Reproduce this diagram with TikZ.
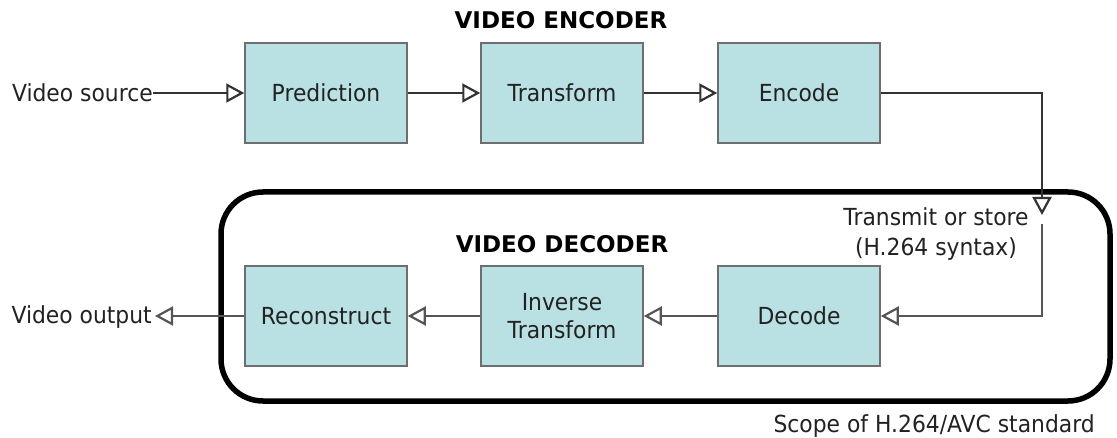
\documentclass[tikz,border=0pt]{standalone}
\usepackage{fontspec}
\setmainfont{DejaVu Sans}[FakeStretch=0.93]
\newfontfamily\headfont{DejaVu Sans}
\usetikzlibrary{arrows.meta,calc}

\definecolor{boxfill}{HTML}{B9E0E3}
\definecolor{boxline}{HTML}{6E6E6E}
\definecolor{flowtop}{HTML}{333333}
\definecolor{flowbot}{HTML}{555555}
\definecolor{txt}{HTML}{222222}

\tikzset{
  stage/.style={draw=boxline, line width=1.5pt, fill=boxfill,
    minimum width=162pt, minimum height=100pt, inner sep=0pt,
    text=txt, font=\fontsize{23.5}{28}\selectfont, align=center},
  label/.style={inner sep=0pt, text=txt, font=\fontsize{23.5}{30}\selectfont},
  heading/.style={inner sep=0pt, text=black, font=\headfont\bfseries\fontsize{23}{26}\selectfont},
  flow/.style={line width=2pt,
    -{Triangle[open, length=18pt, width=19pt, line width=2.2pt]}},
  scope box/.style={line width=5.5pt, rounded corners=42pt, draw=black}
}

\begin{document}
\begin{tikzpicture}[x=1pt, y=-1pt]
  \useasboundingbox (0,0) rectangle (1117,438);

  % encoder row
  \node[stage] (pred) at (326,93) {Prediction};
  \node[stage] (tran) at (562,93) {Transform};
  \node[stage] (enc)  at (799,93) {Encode};
  \node[heading, anchor=base] (enchead) at (561,29) {VIDEO ENCODER};
  \node[label, anchor=base east] (src) at (153,102) {Video source};

  % decoder scope
  \draw[scope box] (221,192) rectangle (1110,401);
  \node[heading, anchor=base] (dechead) at (562,253) {VIDEO DECODER};
  \node[label, anchor=base east] (scope) at (1095,432) {Scope of H.264/AVC standard};

  % decoder row
  \node[stage] (rec) at (326,316) {Reconstruct};
  \node[stage] (inv) at (562,316) {Inverse\\Transform};
  \node[stage] (dec) at (799,316) {Decode};
  \node[label, anchor=base east] (out) at (152,324) {Video output};

  % channel
  \node[label, align=center] (chan) at (936,234) {Transmit or store\\(H.264 syntax)};
  \coordinate (turn) at (1042,93);
  \coordinate (chin) at (1042,215);
  \coordinate (chout) at (1042,224);
  \coordinate (down) at (1042,316);

  % encoder connectors
  \draw[flow, flowtop] (src.east |- pred.west) -- (pred.west);
  \draw[flow, flowtop] (pred.east) -- (tran.west);
  \draw[flow, flowtop] (tran.east) -- (enc.west);
  \draw[flow, flowtop] (enc.east) -- (turn) -- (chin);

  % decoder connectors
  \draw[flow, flowbot] (chout) -- (down) -- (dec.east);
  \draw[flow, flowbot] (dec.west) -- (inv.east);
  \draw[flow, flowbot] (inv.west) -- (rec.east);
  \draw[flow, flowbot] (rec.west) -- ([xshift=3pt]out.east |- rec.west);
\end{tikzpicture}
\end{document}
